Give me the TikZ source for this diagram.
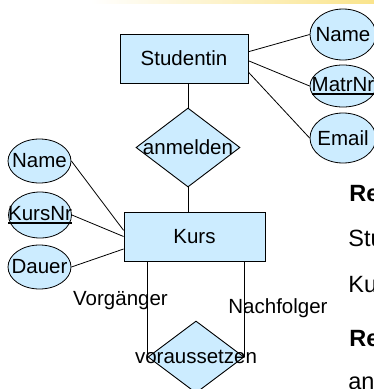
\documentclass[tikz,border=0pt]{standalone}
\usepackage{fontspec}
\setmainfont{Liberation Sans}
\usetikzlibrary{shapes.geometric}
\definecolor{EntityFill}{RGB}{204,236,255}
\definecolor{BandColor}{RGB}{250,228,140}
\newcommand{\primkey}[1]{\setbox0\hbox{#1}\rlap{\rule[-3.5pt]{\wd0}{1.6pt}}\box0}

\tikzset{
    entity/.style={draw, fill=EntityFill, line width=0.9pt, inner sep=0pt},
    relship/.style={diamond, draw, fill=EntityFill, line width=0.9pt, inner sep=0pt},
    attrib/.style={ellipse, draw, fill=EntityFill, line width=0.8pt, inner sep=0pt, minimum width=64pt},
    sidetext/.style={anchor=base west, inner sep=0pt, font=\fontsize{23.5}{28}\selectfont},
}

\begin{document}
\begin{tikzpicture}[x=1pt, y=-1pt, font=\fontsize{20.5}{24}\selectfont, line width=0.8pt]

    \useasboundingbox (0,0) rectangle (374,389);
    \clip (0,0) rectangle (374,389);

    % Streifen oben
    \shade[left color=white, right color=BandColor] (90,0) rectangle (374,3.5);

    % Entitaeten und Beziehungen
    \node[entity, minimum width=128pt, minimum height=49pt] (stud) at (184,58.5) {Studentin};
    \node[entity, minimum width=141pt, minimum height=49pt] (kurs) at (194.5,236.5) {Kurs};
    \node[relship, minimum width=104pt, minimum height=79pt, label=center:anmelden] (anm) at (188,147.5) {};
    \node[relship, minimum width=96pt, minimum height=72pt, label=center:voraussetzen] (vor) at (196,357) {};

    % Attribute Studentin
    \node[attrib, minimum width=66pt, minimum height=51pt, label=center:Name] (sname) at (343,34.5) {};
    \node[attrib, minimum width=66pt, minimum height=42pt, label=center:\primkey{MatrNr}] (smatr) at (343,86) {};
    \node[attrib, minimum width=66pt, minimum height=50pt, label=center:Email] (semail) at (343,138) {};

    % Attribute Kurs
    \node[attrib, minimum width=63pt, minimum height=44pt, label=center:Name] (kname) at (39.5,161) {};
    \node[attrib, minimum width=63pt, minimum height=46pt, label=center:\primkey{KursNr}] (knr) at (40,215) {};
    \node[attrib, minimum width=63pt, minimum height=44pt, label=center:Dauer] (kdauer) at (39.5,267) {};

    \draw (stud.6) -- (sname.west);
    \draw (stud.358) -- (smatr.west);
    \draw (stud.348) -- (semail.west);
    \draw (anm.north) -- (anm.north |- stud.south);
    \draw (anm.south) -- (anm.south |- kurs.north);
    \draw (kname.east) -- (kurs.175);
    \draw (knr.east) -- (kurs.west);
    \draw (kdauer.east) -- (kurs.190);
    \draw (vor.west) -- (vor.west |- kurs.south);
    \draw (vor.east) -- (vor.east |- kurs.south);

    % Rollen
    \node[anchor=base] (vlabel) at (120.5,305) {Vorgänger};
    \node[anchor=base] (nlabel) at (278,313) {Nachfolger};

    % Text rechts (abgeschnitten)
    \node[sidetext, font=\fontsize{23.5}{28}\selectfont\bfseries] (rel1) at (349,201) {Re};
    \node[sidetext] (row1) at (348,246) {Stu};
    \node[sidetext] (row2) at (348,292) {Ku};
    \node[sidetext, font=\fontsize{23.5}{28}\selectfont\bfseries] (rel2) at (349,346) {Re};
    \node[sidetext] (row3) at (348,389) {an};
\end{tikzpicture}
\end{document}
